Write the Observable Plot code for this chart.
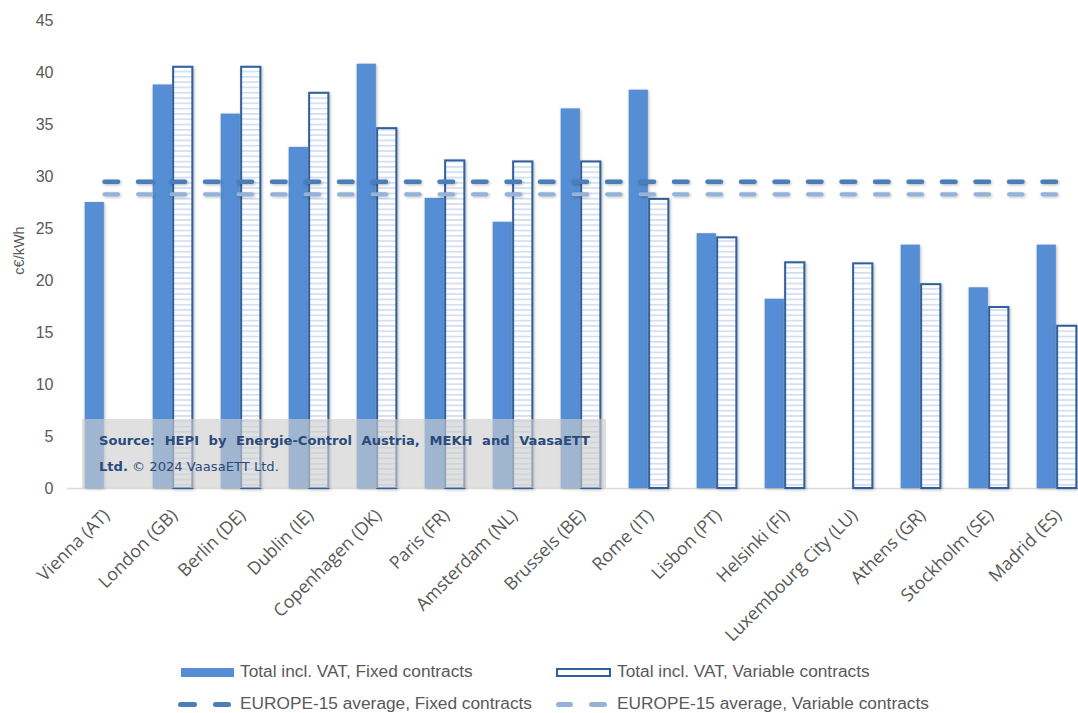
<!DOCTYPE html>
<html>
<head>
<meta charset="utf-8">
<script src="https://cdn.jsdelivr.net/npm/d3@7"></script>
<script src="https://cdn.jsdelivr.net/npm/@observablehq/plot@0.6"></script>
<style>
  html, body { margin: 0; padding: 0; background: #fff; }
  #wrap { position: relative; width: 1078px; height: 713px; overflow: hidden; font-family: "Liberation Sans", Arial, sans-serif; }
  #chart { position: absolute; left: 0; top: 0; }
  .source {
    position: absolute; left: 82px; top: 419px; width: 524px; height: 69px;
    background: rgba(205, 205, 205, 0.62); box-sizing: border-box; padding: 9px 16px 0 17px;
    font-family: "DejaVu Sans", Verdana, sans-serif; font-size: 13.1px; color: #2a4a7c; line-height: 26px;
  }
  .source .l1 { text-align: justify; text-align-last: justify; font-weight: bold; white-space: nowrap; }
  .source b { font-weight: bold; }
  .legend { position: absolute; font-size: 17.3px; color: #595959; }
  .legend .item { position: absolute; white-space: nowrap; }
  .sw { position: absolute; }
</style>
</head>
<body>
<div id="wrap">
  <div id="chart"></div>
  <div class="source">
    <div class="l1">Source: HEPI by Energie-Control Austria, MEKH and VaasaETT</div>
    <div><b>Ltd.</b> © 2024 VaasaETT Ltd.</div>
  </div>
  <div class="legend" id="legend"></div>
</div>
<script>
// Capital cities, in the order shown on the axis
const cities = [
  "Vienna (AT)", "London (GB)", "Berlin (DE)", "Dublin (IE)", "Copenhagen (DK)",
  "Paris (FR)", "Amsterdam (NL)", "Brussels (BE)", "Rome (IT)", "Lisbon (PT)",
  "Helsinki (FI)", "Luxembourg City (LU)", "Athens (GR)", "Stockholm (SE)", "Madrid (ES)"
];
// Household electricity price, total incl. VAT, c€/kWh (null = no offer of that type)
const fixedPrices    = [27.5, 38.8, 36.0, 32.8, 40.8, 27.9, 25.6, 36.5, 38.3, 24.5, 18.2, null, 23.4, 19.3, 23.4];
const variablePrices = [null, 40.5, 40.5, 38.0, 34.6, 31.5, 31.4, 31.4, 27.8, 24.1, 21.7, 21.6, 19.6, 17.4, 15.6];
// EUROPE-15 averages
const avgFixed = 29.5;
const avgVariable = 28.3;
const yTicks = [0, 5, 10, 15, 20, 25, 30, 35, 40, 45];
const yLabel = "c€/kWh";

const seriesNames = {
  fixed: "Total incl. VAT, Fixed contracts",
  variable: "Total incl. VAT, Variable contracts",
  avgFixed: "EUROPE-15 average, Fixed contracts",
  avgVariable: "EUROPE-15 average, Variable contracts"
};

const colors = {
  fixed: "#558ed5",
  variableStroke: "#2f5f9c",
  hatch: "#c8d8f0",
  avgFixed: "#4a7ebb",
  avgVariable: "#93b3db",
  text: "#595959"
};

const rows = cities.map((city, i) => ({city, fixed: fixedPrices[i], variable: variablePrices[i]}));
const fixedRows = rows.filter(d => d.fixed != null);
const variableRows = rows.filter(d => d.variable != null);

const bandStep = (1092 - 67.5) / cities.length;
const half = bandStep / 2;
const barW = 19.5;
const shadow = "drop-shadow(1px 1.5px 1.5px rgba(0,0,0,0.28))";

const chart = Plot.plot({
  width: 1078,
  height: 650,
  marginLeft: 67,
  marginRight: 0,
  marginTop: 20,
  marginBottom: 162,
  style: {background: "#fff", fontFamily: "'Liberation Sans', Arial, sans-serif", color: colors.text},
  x: {type: "band", domain: cities, range: [67.5, 1092], padding: 0},
  y: {domain: [0, 45], range: [488, 20]},
  marks: [
    Plot.axisY({
      ticks: yTicks, tickSize: 0, tickPadding: 14, fontSize: 16, fill: colors.text, label: null
    }),
    Plot.text([yLabel], {
      frameAnchor: "left", textAnchor: "middle", dx: -48, dy: -4, rotate: -90, fontSize: 14.5, fill: colors.text
    }),
    Plot.axisX({
      tickRotate: -45, tickSize: 0, tickPadding: 24, dx: 2, fontSize: 17.8, fill: colors.text, label: null,
      fontFamily: "'Open Sans', 'Liberation Sans', sans-serif"
    }),
    Plot.ruleY([0], {stroke: "#d9d9d9", strokeWidth: 1.5}),
    Plot.barY(fixedRows, {
      x: "city", y: "fixed", fill: colors.fixed,
      insetLeft: half - barW, insetRight: half,
      imageFilter: shadow
    }),
    Plot.barY(variableRows, {
      x: "city", y: "variable", fill: "url(#hatch)",
      stroke: colors.variableStroke, strokeWidth: 2,
      insetLeft: half + 1, insetRight: half - barW - 1,
      imageFilter: shadow
    }),
    Plot.lineY(cities, {
      x: d => d, y: () => avgFixed, stroke: colors.avgFixed, strokeWidth: 4.5,
      strokeDasharray: "13.5,20", strokeLinecap: "round", imageFilter: shadow
    }),
    Plot.lineY(cities, {
      x: d => d, y: () => avgVariable, stroke: colors.avgVariable, strokeWidth: 4,
      strokeDasharray: "13.5,20", strokeLinecap: "round", imageFilter: shadow
    })
  ]
});

// Horizontal-line hatch used to fill the variable-contract bars
const defs = d3.select(chart).insert("defs", ":first-child");
const pat = defs.append("pattern")
  .attr("id", "hatch").attr("patternUnits", "userSpaceOnUse")
  .attr("width", 10).attr("height", 5.3);
pat.append("rect").attr("width", 10).attr("height", 5.3).attr("fill", "#fff");
pat.append("line").attr("x1", 0).attr("x2", 10).attr("y1", 2.6).attr("y2", 2.6)
  .attr("stroke", colors.hatch).attr("stroke-width", 1.4);

document.getElementById("chart").appendChild(chart);

// Legend below the chart
const legend = document.getElementById("legend");
function addItem(left, top, html) {
  const el = document.createElement("div");
  el.className = "item";
  el.style.left = left + "px";
  el.style.top = top + "px";
  el.innerHTML = html;
  legend.appendChild(el);
}
function addSwatch(style) {
  const el = document.createElement("div");
  el.className = "sw";
  Object.assign(el.style, style);
  legend.appendChild(el);
}
addSwatch({left: "181px", top: "668px", width: "53px", height: "9px", background: colors.fixed});
addItem(240, 661, seriesNames.fixed);
addSwatch({left: "556px", top: "668px", width: "55px", height: "9px", background: "#fff",
  border: "2px solid " + colors.variableStroke, boxSizing: "border-box"});
addItem(617, 661, seriesNames.variable);
[[178, 197], [213, 231]].forEach(([a, b]) =>
  addSwatch({left: a + "px", top: "701.5px", width: (b - a) + "px", height: "5px", borderRadius: "3px", background: colors.avgFixed}));
addItem(240, 693, seriesNames.avgFixed);
[[556, 573], [589, 607]].forEach(([a, b]) =>
  addSwatch({left: a + "px", top: "701.5px", width: (b - a) + "px", height: "5px", borderRadius: "3px", background: colors.avgVariable}));
addItem(617, 693, seriesNames.avgVariable);
</script>
</body>
</html>
